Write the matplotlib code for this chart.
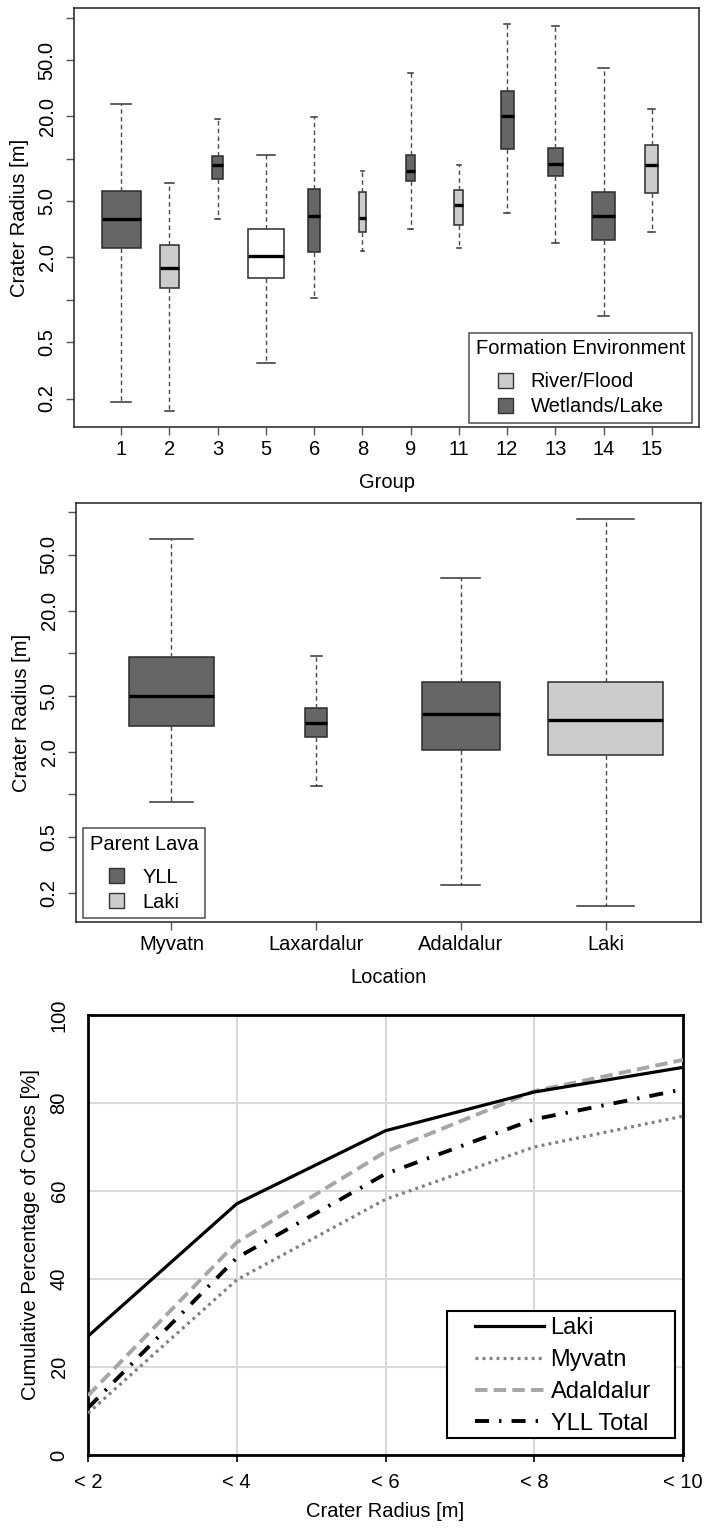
import matplotlib
matplotlib.use("Agg")
import matplotlib.pyplot as plt
from matplotlib.patches import Patch, Rectangle
import numpy as np

plt.rcParams['font.family'] = ['Liberation Sans', 'DejaVu Sans']

# ---------------- data: panel 1 (by group) ----------------
groups = ['1', '2', '3', '5', '6', '8', '9', '11', '12', '13', '14', '15']
g_whislo = [0.188, 0.162, 3.75, 0.355, 1.03, 2.21, 3.18, 2.33, 4.13, 2.52, 0.773, 3.01]
g_q1 = [2.32, 1.21, 7.24, 1.43, 2.18, 3.01, 6.93, 3.40, 11.8, 7.53, 2.65, 5.73]
g_med = [3.75, 1.69, 9.01, 2.05, 3.92, 3.79, 8.17, 4.71, 20.1, 9.25, 3.92, 9.01]
g_q3 = [5.95, 2.45, 10.4, 3.20, 6.12, 5.80, 10.6, 6.06, 30.5, 12.0, 5.80, 12.5]
g_whishi = [24.6, 6.75, 19.1, 10.7, 19.8, 8.17, 40.4, 9.01, 90.2, 87.1, 43.9, 22.7]
g_env = ['Wetlands/Lake', 'River/Flood', 'Wetlands/Lake', 'Unclassified', 'Wetlands/Lake',
         'River/Flood', 'Wetlands/Lake', 'River/Flood', 'Wetlands/Lake', 'Wetlands/Lake',
         'Wetlands/Lake', 'River/Flood']
g_relwidth = [0.81, 0.39, 0.23, 0.73, 0.255, 0.13, 0.18, 0.18, 0.27, 0.31, 0.48, 0.27]

# ---------------- data: panel 2 (by location) ----------------
locations = ['Myvatn', 'Laxardalur', 'Adaldalur', 'Laki']
l_whislo = [0.887, 1.14, 0.226, 0.161]
l_q1 = [3.03, 2.54, 2.07, 1.90]
l_med = [4.98, 3.22, 3.73, 3.38]
l_q3 = [9.46, 4.09, 6.30, 6.22]
l_whishi = [64.7, 9.57, 34.0, 89.6]
l_lava = ['YLL', 'YLL', 'YLL', 'Laki']
l_relwidth = [0.585, 0.156, 0.54, 0.80]

# ---------------- data: panel 3 (cumulative) ----------------
radius_bins = ['< 2', '< 4', '< 6', '< 8', '< 10']
laki = [27.0, 57.1, 73.7, 82.5, 88.1]
myvatn = [9.5, 39.8, 58.1, 70.0, 77.0]
adaldalur = [13.5, 48.3, 68.9, 82.7, 89.8]
yll_total = [10.7, 44.8, 63.9, 76.3, 83.1]

env_colors = {'Wetlands/Lake': '#666666', 'River/Flood': '#CCCCCC', 'Unclassified': '#FFFFFF'}
lava_colors = {'YLL': '#666666', 'Laki': '#CCCCCC'}

W, H = 706, 1528
fig = plt.figure(figsize=(W / 100, H / 100), dpi=100)

def ax_px(l, t, r, b):
    return fig.add_axes([l / W, 1 - b / H, (r - l) / W, (b - t) / H])

FS = 14.5

def boxpanel(ax, names, lo, q1, med, q3, hi, cols, widths, ylim):
    stats = []
    for n, a, b, c, d, e in zip(names, lo, q1, med, q3, hi):
        stats.append(dict(label=n, whislo=a, q1=b, med=c, q3=d, whishi=e, fliers=[]))
    pos = np.arange(1, len(names) + 1)
    bp = ax.bxp(stats, positions=pos, widths=widths, capwidths=[w * 0.5 for w in widths],
                patch_artist=True, showfliers=False,
                boxprops=dict(edgecolor='#2b2b2b', linewidth=1.1),
                medianprops=dict(color='black', linewidth=2.4, solid_capstyle='butt'),
                whiskerprops=dict(color='#484848', linewidth=1.0, linestyle=(0, (3.2, 2.4))),
                capprops=dict(color='#333333', linewidth=1.1))
    for patch, c in zip(bp['boxes'], cols):
        patch.set_facecolor(c)
    ax.set_yscale('log')
    ax.set_ylim(*ylim)
    n = len(names)
    ax.set_xlim(0.5 - 0.04 * n, n + 0.5 + 0.04 * n)
    yt = [0.2, 0.5, 1, 2, 5, 10, 20, 50, 100]
    ylab = ['0.2', '0.5', '', '2.0', '5.0', '', '20.0', '50.0', '']
    ax.set_yticks(yt)
    ax.set_yticklabels(ylab)
    ax.yaxis.set_minor_locator(matplotlib.ticker.NullLocator())
    ax.set_xticks(pos)
    ax.set_xticklabels(names)
    ax.tick_params(axis='both', direction='out', length=5.5, width=1.0, color='#555555',
                   labelsize=FS)
    ax.tick_params(axis='y', pad=7)
    ax.tick_params(axis='x', pad=4)
    for t in ax.get_yticklabels():
        t.set_rotation(90)
        t.set_va('center')
    for s in ax.spines.values():
        s.set_linewidth(1.1)
        s.set_color('#222222')
    ax.set_ylabel('Crater Radius [m]', fontsize=FS, labelpad=6)

def style_box_legend(leg):
    leg.get_frame().set_edgecolor('#222222')
    leg.get_frame().set_linewidth(1.1)
    leg._legend_box.sep = 10

# ---- panel 1
ax1 = ax_px(74, 8, 699, 427)
boxpanel(ax1, groups, g_whislo, g_q1, g_med, g_q3, g_whishi,
         [env_colors[e] for e in g_env], g_relwidth, (10 ** -0.901, 10 ** 2.070))
ax1.set_xlabel('Group', fontsize=FS, labelpad=10)
h1 = [Patch(facecolor=env_colors[k], edgecolor='#333333', linewidth=1.0)
      for k in ['River/Flood', 'Wetlands/Lake']]
leg1 = ax1.legend(h1, ['River/Flood', 'Wetlands/Lake'], title='Formation Environment',
                  loc='lower right', bbox_to_anchor=(0.989, 0.0095), borderaxespad=0,
                  fontsize=FS, title_fontsize=FS, frameon=True, fancybox=False,
                  handlelength=0.75, handleheight=0.75, handletextpad=0.9,
                  labelspacing=0.3, borderpad=0.33)
style_box_legend(leg1)

# ---- panel 2
ax2 = ax_px(76, 503, 701, 922)
boxpanel(ax2, locations, l_whislo, l_q1, l_med, l_q3, l_whishi,
         [lava_colors[e] for e in l_lava], l_relwidth, (10 ** -0.906, 10 ** 2.066))
ax2.set_xlabel('Location', fontsize=FS, labelpad=10)
h2 = [Patch(facecolor=lava_colors[k], edgecolor='#333333', linewidth=1.0) for k in ['YLL', 'Laki']]
leg2 = ax2.legend(h2, ['YLL', 'Laki'], title='Parent Lava',
                  loc='lower left', bbox_to_anchor=(0.0112, 0.0088), borderaxespad=0,
                  fontsize=FS, title_fontsize=FS, frameon=True, fancybox=False,
                  handlelength=0.75, handleheight=0.75, handletextpad=0.9,
                  labelspacing=0.3, borderpad=0.33)
style_box_legend(leg2)

# ---- panel 3
ax3 = ax_px(88, 1015, 683, 1455)
x = np.arange(len(radius_bins))
ax3.plot(x, laki, color='black', linewidth=2.3, label='Laki', zorder=5)
ax3.plot(x, myvatn, color='#808080', linewidth=2.3, linestyle=(0, (0.9, 1.3)),
         label='Myvatn', zorder=4)
ax3.plot(x, adaldalur, color='#A6A6A6', linewidth=2.8, linestyle=(0, (3.2, 1.6)),
         label='Adaldalur', zorder=3)
ax3.plot(x, yll_total, color='black', linewidth=2.8, linestyle=(0, (3.6, 2.6, 0.6, 2.6)),
         label='YLL Total', zorder=6)
ax3.set_xlim(0, len(radius_bins) - 1)
ax3.set_ylim(0, 100)
ax3.set_xticks(x)
ax3.set_xticklabels(radius_bins)
ax3.set_yticks([0, 20, 40, 60, 80, 100])
ax3.grid(True, color='#D9D9D9', linewidth=1.5, zorder=0)
ax3.set_axisbelow(True)
ax3.tick_params(axis='x', direction='out', length=5, width=1.2, color='black',
                labelsize=FS, pad=8)
ax3.tick_params(axis='y', length=0, labelsize=FS, pad=14)
for t in ax3.get_yticklabels():
    t.set_rotation(90)
    t.set_va('center')
for s in ax3.spines.values():
    s.set_linewidth(2.0)
    s.set_color('black')
ax3.set_xlabel('Crater Radius [m]', fontsize=FS, labelpad=7)
ax3.set_ylabel('Cumulative Percentage of Cones [%]', fontsize=FS, labelpad=7)
# legend frame (wider horizontal padding like the original)
ax3.add_patch(Rectangle((0.6034, 0.0386), 0.9866 - 0.6034, 0.327 - 0.0386,
                        transform=ax3.transAxes, facecolor='white', edgecolor='black',
                        linewidth=1.5, zorder=10))
leg3 = ax3.legend(loc='lower right', bbox_to_anchor=(0.946, 0.046), borderaxespad=0,
                  fontsize=17, frameon=False, handlelength=2.9,
                  handletextpad=0.3, labelspacing=0.42, borderpad=0.0)
leg3.set_zorder(11)

fig.savefig('out.png', dpi=100, facecolor='white')
